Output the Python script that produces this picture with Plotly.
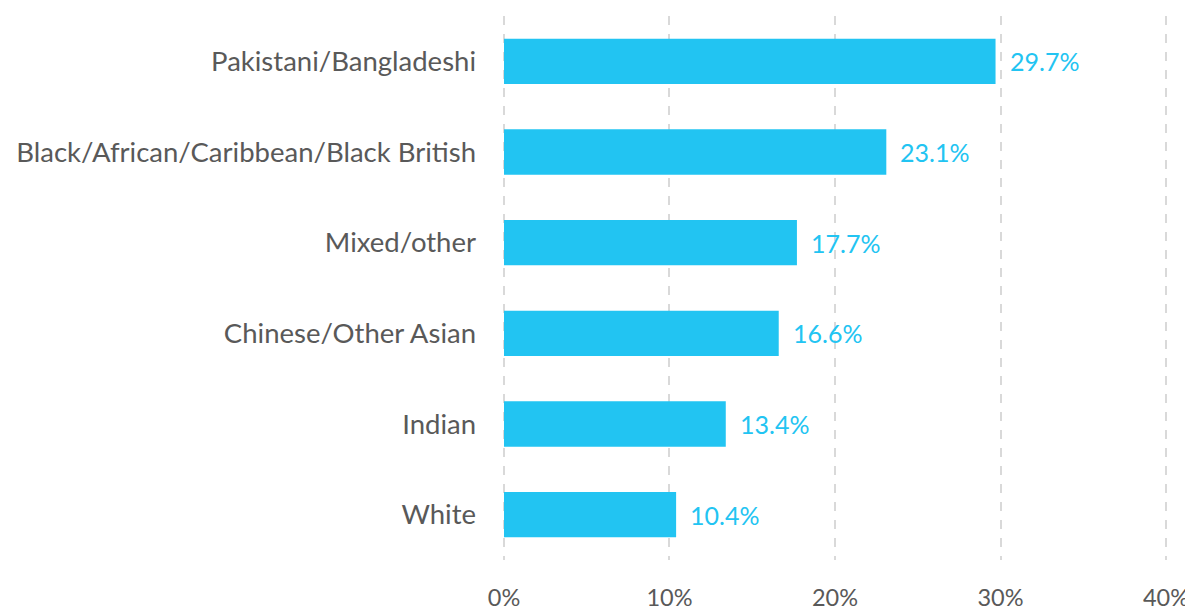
import plotly.graph_objects as go

categories = ["Pakistani/Bangladeshi", "Black/African/Caribbean/Black British",
              "Mixed/other", "Chinese/Other Asian", "Indian", "White"]
values = [29.7, 23.1, 17.7, 16.6, 13.4, 10.4]
tick_vals = [0, 10, 20, 30, 40]
tick_text = ["0%", "10%", "20%", "30%", "40%"]

BAR = "#22C4F2"
GREY = "#595959"
FONT = "Lato"

fig = go.Figure(go.Bar(
    x=values, y=categories, orientation="h",
    marker=dict(color=BAR, line=dict(width=0)),
    width=0.5, hoverinfo="skip",
))

for c, v in zip(categories, values):
    fig.add_annotation(x=v, y=c, text=f"{v:.1f}%", showarrow=False,
                       xanchor="left", yanchor="middle", xshift=12,
                       font=dict(family=FONT, size=25, color=BAR))

# page has an 8px body margin, so the figure is sized/offset to compensate
fig.update_layout(
    width=1185, height=604,
    margin=dict(l=494, r=25, t=8, b=52, autoexpand=False),
    paper_bgcolor="white", plot_bgcolor="white",
    showlegend=False,
    font=dict(family=FONT, color=GREY),
    xaxis=dict(range=[-0.12, 40.12], tickvals=tick_vals, ticktext=tick_text,
               showgrid=True, gridcolor="#d9d9d9", griddash="dash", gridwidth=1.5,
               zeroline=False, showline=False, ticks="", automargin=False,
               ticklabelstandoff=21,
               tickfont=dict(family=FONT, size=23.5, color=GREY), fixedrange=True),
    yaxis=dict(categoryorder="array", categoryarray=categories[::-1],
               range=[-0.5, 5.5], showgrid=False, zeroline=False, showline=False,
               ticks="", ticklabelstandoff=25, automargin=False,
               tickfont=dict(family=FONT, size=27.5, color=GREY), fixedrange=True),
)

fig.write_html("out.html")
